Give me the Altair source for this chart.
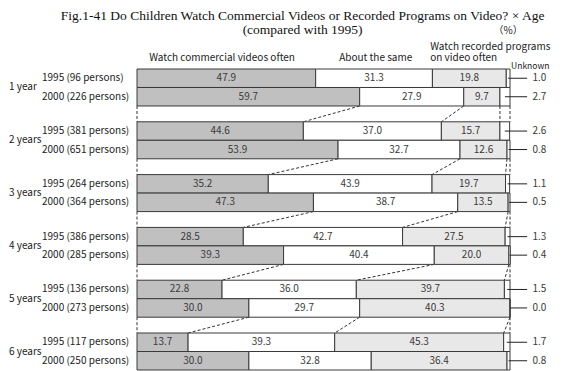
import altair as alt
import pandas as pd

ages = ["1 year", "2 years", "3 years", "4 years", "5 years", "6 years"]
categories = ["Watch commercial videos often", "About the same",
              "Watch recorded programs on video often", "Unknown"]
n_1995 = [96, 381, 264, 386, 136, 117]
n_2000 = [226, 651, 364, 285, 273, 250]
commercial_1995 = [47.9, 44.6, 35.2, 28.5, 22.8, 13.7]
same_1995 = [31.3, 37.0, 43.9, 42.7, 36.0, 39.3]
recorded_1995 = [19.8, 15.7, 19.7, 27.5, 39.7, 45.3]
unknown_1995 = [1.0, 2.6, 1.1, 1.3, 1.5, 1.7]
commercial_2000 = [59.7, 53.9, 47.3, 39.3, 30.0, 30.0]
same_2000 = [27.9, 32.7, 38.7, 40.4, 29.7, 32.8]
recorded_2000 = [9.7, 12.6, 13.5, 20.0, 40.3, 36.4]
unknown_2000 = [2.7, 0.8, 0.5, 0.4, 0.0, 0.8]
title_lines = ["Fig.1-41 Do Children Watch Commercial Videos or Recorded Programs on Video? × Age",
               "(compared with 1995)"]

colors = ["#c0c0c0", "#ffffff", "#e8e8e8", "#ffffff"]
FONT = "Noto Sans CJK JP"
GAP = 0.855
STEP = 2 + GAP
H = 301
YMAX = 12 + 5 * GAP
PXU = H / YMAX  # pixels per row unit

rows = []
bounds = {}
for g, age in enumerate(ages):
    series = [
        ("1995", n_1995[g], [commercial_1995[g], same_1995[g], recorded_1995[g], unknown_1995[g]]),
        ("2000", n_2000[g], [commercial_2000[g], same_2000[g], recorded_2000[g], unknown_2000[g]]),
    ]
    for k, (yr, n, vals) in enumerate(series):
        top = g * STEP + k
        cum = 0.0
        b = [0.0]
        for cat, v in zip(categories, vals):
            rows.append(dict(age=age, year=yr, cat=cat, pct=v, x0=cum, x1=cum + v,
                             xm=cum + v / 2, ytop=top, ybot=top + 1, ym=top + 0.5,
                             lx=104.6, tx=106.0,
                             rowlabel=f"{yr} ({n} persons)"))
            cum += v
            b.append(cum)
        b[-1] = 100.0
        bounds[(g, yr)] = b
df = pd.DataFrame(rows)

conn = []
for g in range(len(ages) - 1):
    for a, b in zip(bounds[(g, "2000")], bounds[(g + 1, "1995")]):
        conn.append(dict(xa=a, xb=b, ya=g * STEP + 2, yb=(g + 1) * STEP))
conn_df = pd.DataFrame(conn)

age_df = pd.DataFrame({"age": ages, "ym": [g * STEP + 1 for g in range(len(ages))]})

xscale = alt.Scale(domain=[0, 100], nice=False, zero=False)
yscale = alt.Scale(domain=[0, YMAX], nice=False, zero=False, reverse=True)

base = alt.Chart(df)

bars = base.mark_bar(stroke="#3a3a3a", strokeWidth=1).encode(
    x=alt.X("x0:Q", scale=xscale, axis=None),
    x2="x1:Q",
    y=alt.Y("ytop:Q", scale=yscale, axis=None),
    y2="ybot:Q",
    color=alt.Color("cat:N", scale=alt.Scale(domain=categories, range=colors), legend=None),
)

values = base.transform_filter(alt.datum.cat != "Unknown").mark_text(
    font=FONT, fontSize=10, color="#3a3a3a"
).encode(
    x=alt.X("xm:Q", scale=xscale, axis=None),
    y=alt.Y("ym:Q", scale=yscale, axis=None),
    text=alt.Text("pct:Q", format=".1f")
)

unk = base.transform_filter(alt.datum.cat == "Unknown")
leader = unk.mark_rule(color="#222222", strokeWidth=1, clip=False).encode(
    x=alt.X("xm:Q", scale=xscale, axis=None), x2="lx:Q",
    y=alt.Y("ym:Q", scale=yscale, axis=None)
)
unk_text = unk.mark_text(font=FONT, fontSize=10, color="#3a3a3a", align="left", clip=False).encode(
    x=alt.X("tx:Q", scale=xscale, axis=None),
    y=alt.Y("ym:Q", scale=yscale, axis=None),
    text=alt.Text("pct:Q", format=".1f")
)

row_labels = base.transform_filter(alt.datum.cat == categories[0]).mark_text(
    font=FONT, fontSize=10, color="#222222", align="left"
).encode(x=alt.value(-95), y=alt.Y("ym:Q", scale=yscale, axis=None), text="rowlabel:N")

age_labels = alt.Chart(age_df).mark_text(
    font=FONT, fontSize=10, color="#222222", align="left"
).encode(x=alt.value(-128), y=alt.Y("ym:Q", scale=yscale, axis=None), text="age:N")

connectors = alt.Chart(conn_df).mark_rule(
    color="#333333", strokeWidth=1, strokeDash=[3, 2]
).encode(
    x=alt.X("xa:Q", scale=xscale, axis=None), x2="xb:Q",
    y=alt.Y("ya:Q", scale=yscale, axis=None), y2="yb:Q"
)

hdr_center = pd.DataFrame({
    "t": [categories[0], categories[1], "（%）"],
    "hx": [22.8, 64.0, 99.5],
    "hy": [-11 / PXU, -11 / PXU, -38 / PXU],
})
hdr_left = pd.DataFrame({
    "t": ["Watch recorded programs", "on video often"],
    "hx": [78.6, 78.6],
    "hy": [-22.5 / PXU, -11 / PXU],
})
unk_hdr = pd.DataFrame({"t": ["Unknown"], "hx": [100.3], "hy": [-3.5 / PXU]})
title_df = pd.DataFrame({
    "t": title_lines,
    "hx": [44.4, 44.4],
    "hy": [-53 / PXU, -39.5 / PXU],
})

headers_c = alt.Chart(hdr_center).mark_text(
    font=FONT, fontSize=10, color="#222222", align="center", clip=False
).encode(x=alt.X("hx:Q", scale=xscale, axis=None),
         y=alt.Y("hy:Q", scale=yscale, axis=None), text="t:N")
headers_l = alt.Chart(hdr_left).mark_text(
    font=FONT, fontSize=10, color="#222222", align="left", clip=False
).encode(x=alt.X("hx:Q", scale=xscale, axis=None),
         y=alt.Y("hy:Q", scale=yscale, axis=None), text="t:N")
header_unk = alt.Chart(unk_hdr).mark_text(
    font=FONT, fontSize=8.5, color="#222222", align="left", clip=False
).encode(x=alt.X("hx:Q", scale=xscale, axis=None),
         y=alt.Y("hy:Q", scale=yscale, axis=None), text="t:N")
title = alt.Chart(title_df).mark_text(
    font="Liberation Serif", fontSize=13.5, fontWeight="normal", color="#111111",
    align="center", clip=False
).encode(x=alt.X("hx:Q", scale=xscale, axis=None),
         y=alt.Y("hy:Q", scale=yscale, axis=None), text="t:N")

chart = alt.layer(
    connectors, bars, values, leader, unk_text, row_labels, age_labels,
    headers_c, headers_l, header_unk, title
).properties(
    width=373, height=H,
    autosize=alt.AutoSizeParams(type="none"),
    padding={"left": 129, "top": 61, "right": 45, "bottom": 1},
).configure_view(strokeWidth=0)

chart.save("out.html", embed_options={"renderer": "svg", "actions": False})
